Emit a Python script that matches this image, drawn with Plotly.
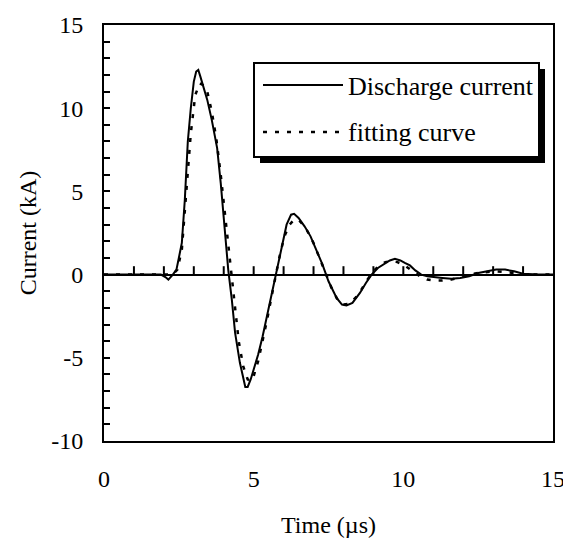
import plotly.graph_objects as go

# Measured discharge current (kA) vs time (µs)
t_meas = [0, 1.0, 1.9, 2.05, 2.15, 2.3, 2.42, 2.5, 2.6, 2.7, 2.8, 2.9, 3.0, 3.08, 3.15, 3.22, 3.3,
          3.45, 3.6, 3.78, 3.9, 4.0, 4.15, 4.27, 4.38, 4.54, 4.65, 4.72, 4.8, 4.9, 5.0, 5.15, 5.3,
          5.44, 5.6, 5.77, 5.95, 6.1, 6.25, 6.35, 6.5, 6.7, 6.9, 7.1, 7.3, 7.5, 7.77, 7.95, 8.1,
          8.3, 8.55, 8.75, 8.94, 9.15, 9.35, 9.55, 9.72, 9.9, 10.05, 10.22, 10.4, 10.6, 10.8,
          11.0, 11.3, 11.6, 11.9, 12.2, 12.5, 12.8, 13.1, 13.4, 13.7, 14.0, 14.5, 15]
i_meas = [0, 0.02, 0, -0.15, -0.3, 0, 0.3, 1.0, 1.9, 4.5, 8.0, 10.0, 11.6, 12.2, 12.3, 11.9, 11.4,
          10.5, 9.3, 7.6, 5.5, 3.3, 0.3, -1.5, -3.5, -5.3, -6.3, -6.75, -6.75, -6.3, -5.7, -4.8, -3.7,
          -2.5, -1.2, 0.3, 1.8, 3.0, 3.6, 3.65, 3.4, 2.9, 2.3, 1.5, 0.6, -0.4, -1.4, -1.8, -1.85,
          -1.7, -1.1, -0.5, 0.0, 0.4, 0.6, 0.85, 0.95, 0.85, 0.7, 0.55, 0.25, 0.0, -0.1,
          -0.15, -0.2, -0.25, -0.2, -0.1, 0.1, 0.2, 0.3, 0.3, 0.2, 0.05, 0.0, 0.0]

# Fitting curve
t_fit = [0, 2.3, 2.45, 2.6, 2.75, 2.9, 3.05, 3.2, 3.3, 3.45, 3.6, 3.75, 3.9, 4.05, 4.2, 4.35, 4.5,
         4.65, 4.8, 4.9, 5.0, 5.15, 5.3, 5.45, 5.6, 5.75, 5.9, 6.05, 6.2, 6.35, 6.5, 6.65, 6.8, 7.0,
         7.2, 7.4, 7.6, 7.8, 8.0, 8.2, 8.4, 8.6, 8.8, 9.0, 9.2, 9.4, 9.6, 9.8, 10.0, 10.2, 10.4,
         10.6, 10.8, 11.0, 11.3, 11.6, 11.9, 12.2, 12.5, 12.8, 13.1, 13.4, 13.7, 14.0, 14.5, 15]
i_fit = [0, 0, 0.3, 1.5, 5.0, 8.5, 10.8, 11.5, 11.4, 11.0, 9.8, 8.2, 6.0, 3.5, 0.8, -1.8, -4.0,
         -5.5, -6.3, -6.4, -6.1, -5.2, -4.0, -2.7, -1.3, 0.1, 1.4, 2.4, 3.0, 3.3, 3.3, 3.0, 2.6, 1.9,
         1.0, 0.1, -0.8, -1.5, -1.8, -1.75, -1.4, -0.9, -0.3, 0.2, 0.55, 0.75, 0.8, 0.75, 0.6, 0.35, 0.1,
         -0.15, -0.3, -0.35, -0.35, -0.3, -0.15, 0.0, 0.1, 0.15, 0.2, 0.15, 0.1, 0.0, 0, 0]

x_ticks = [0, 5, 10, 15]
x_minor_ticks = list(range(1, 15))
y_ticks = [-10, -5, 0, 5, 10, 15]
y_range = [-10, 15]
legend_labels = ["Discharge current", "fitting curve"]

FONT = "Liberation Serif, Times New Roman, serif"

# page body has an 8px offset; figure placed so the plot lands where the reference has it
OFF = 8
W, H = 571 - OFF, 543 - OFF
L, R, T, B = 104 - OFF, 18, 25 - OFF, 102
pw, ph = W - L - R, H - T - B
TICK_PX = 7
tick_len_data = TICK_PX * (y_range[1] - y_range[0]) / ph

fig = go.Figure()
fig.add_trace(go.Scatter(x=t_meas, y=i_meas, mode="lines", name=legend_labels[0],
                         line=dict(color="black", width=2), showlegend=False))
fig.add_trace(go.Scatter(x=t_fit, y=i_fit, mode="lines", name=legend_labels[1],
                         line=dict(color="black", width=2.5, dash="4px,8px"), showlegend=False))
# tick marks on the time axis that crosses at zero current (pointing upward)
fig.add_trace(go.Scatter(x=x_minor_ticks, y=[tick_len_data / 2] * len(x_minor_ticks), mode="markers",
                         marker=dict(symbol="line-ns", size=TICK_PX, color="black",
                                     line=dict(color="black", width=2)),
                         hoverinfo="skip", showlegend=False, cliponaxis=False))


def px(x):
    return (x - OFF - L) / pw


def py(y):
    return (H - B - (y - OFF)) / ph


shapes = [
    # legend shadow
    dict(type="rect", xref="paper", yref="paper", x0=px(260), x1=px(545), y0=py(163), y1=py(69),
         fillcolor="black", line=dict(width=0), layer="above"),
    # legend box
    dict(type="rect", xref="paper", yref="paper", x0=px(254), x1=px(539), y0=py(157), y1=py(63),
         fillcolor="white", line=dict(color="black", width=2), layer="above"),
    dict(type="line", xref="paper", yref="paper", x0=px(263), x1=px(343), y0=py(85), y1=py(85),
         line=dict(color="black", width=2), layer="above"),
    dict(type="line", xref="paper", yref="paper", x0=px(263), x1=px(343), y0=py(132), y1=py(132),
         line=dict(color="black", width=2.5, dash="4px,8px"), layer="above"),
]
annotations = [
    dict(xref="paper", yref="paper", x=px(346), y=py(86), text=legend_labels[0], showarrow=False,
         xanchor="left", yanchor="middle", font=dict(family=FONT, size=26, color="black")),
    dict(xref="paper", yref="paper", x=px(346), y=py(133), text=legend_labels[1], showarrow=False,
         xanchor="left", yanchor="middle", font=dict(family=FONT, size=26, color="black")),
]

fig.update_layout(
    template="none",
    width=W, height=H,
    margin=dict(l=L, r=R, t=T, b=B, pad=0),
    paper_bgcolor="white", plot_bgcolor="white",
    font=dict(family=FONT, size=24, color="black"),
    showlegend=False,
    shapes=shapes, annotations=annotations,
    xaxis=dict(range=[0, 15], tickmode="array", tickvals=x_ticks, ticktext=[str(v) for v in x_ticks],
               showline=True, linecolor="black", linewidth=2, mirror=True,
               ticks="", showgrid=False, zeroline=False, ticklabelstandoff=15,
               title=dict(text="Time (µs)", font=dict(size=24), standoff=25)),
    yaxis=dict(range=y_range, tickmode="array", tickvals=y_ticks, ticktext=[str(v) for v in y_ticks],
               showline=True, linecolor="black", linewidth=2, mirror=True,
               ticks="inside", ticklen=6, tickwidth=2, tickcolor="black",
               minor=dict(dtick=1, tick0=0, ticks="inside", ticklen=6, tickwidth=2,
                          tickcolor="black"),
               showgrid=False, zeroline=True, zerolinecolor="black", zerolinewidth=2,
               ticklabelstandoff=14,
               title=dict(text="Current (kA)", font=dict(size=24), standoff=8)),
)

fig.write_html("out.html")
